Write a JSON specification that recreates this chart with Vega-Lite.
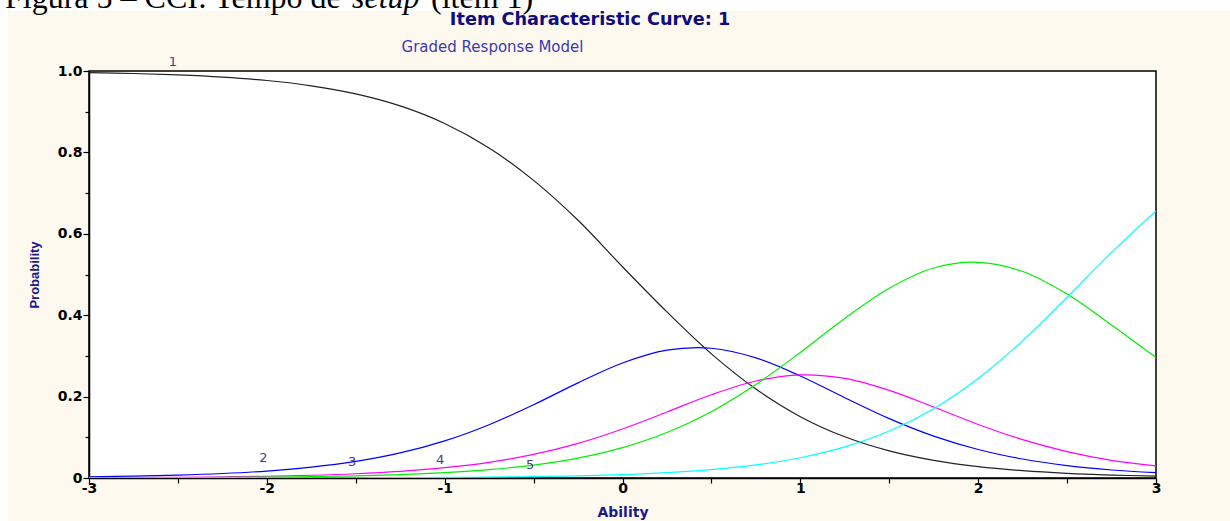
{
  "$schema": "https://vega.github.io/schema/vega-lite/v6.json",
  "width": 1067,
  "height": 407,
  "autosize": {"type": "none"},
  "padding": {"left": 89, "top": 71, "right": 74, "bottom": 43},
  "background": "#FEF9EE",
  "config": {"view": {"fill": "#FFFFFF", "stroke": "#000000", "strokeWidth": 1.5}},
  "datasets": {
    "curves": [
      {"theta": -3, "c1": 0.9961, "c2": 0.0028, "c3": 0.0007, "c4": 0.0003, "c5": 0.0000},
      {"theta": -2.75, "c1": 0.9939, "c2": 0.0045, "c3": 0.0011, "c4": 0.0005, "c5": 0.0001},
      {"theta": -2.5, "c1": 0.9904, "c2": 0.0070, "c3": 0.0017, "c4": 0.0009, "c5": 0.0001},
      {"theta": -2.25, "c1": 0.9850, "c2": 0.0110, "c3": 0.0027, "c4": 0.0014, "c5": 0.0001},
      {"theta": -2, "c1": 0.9766, "c2": 0.0171, "c3": 0.0043, "c4": 0.0022, "c5": 0.0002},
      {"theta": -1.75, "c1": 0.9636, "c2": 0.0265, "c3": 0.0067, "c4": 0.0034, "c5": 0.0004},
      {"theta": -1.5, "c1": 0.9438, "c2": 0.0407, "c3": 0.0105, "c4": 0.0054, "c5": 0.0006},
      {"theta": -1.25, "c1": 0.9142, "c2": 0.0616, "c3": 0.0164, "c4": 0.0083, "c5": 0.0009},
      {"theta": -1, "c1": 0.8711, "c2": 0.0912, "c3": 0.0253, "c4": 0.0131, "c5": 0.0014},
      {"theta": -0.75, "c1": 0.8109, "c2": 0.1310, "c3": 0.0386, "c4": 0.0204, "c5": 0.0022},
      {"theta": -0.5, "c1": 0.7313, "c2": 0.1800, "c3": 0.0580, "c4": 0.0318, "c5": 0.0034},
      {"theta": -0.25, "c1": 0.6332, "c2": 0.2338, "c3": 0.0851, "c4": 0.0489, "c5": 0.0054},
      {"theta": 0, "c1": 0.5190, "c2": 0.2826, "c3": 0.1204, "c4": 0.0746, "c5": 0.0084},
      {"theta": 0.25, "c1": 0.4080, "c2": 0.3141, "c3": 0.1621, "c4": 0.1117, "c5": 0.0132},
      {"theta": 0.5, "c1": 0.3050, "c2": 0.3188, "c3": 0.2046, "c4": 0.1629, "c5": 0.0207},
      {"theta": 0.75, "c1": 0.2186, "c2": 0.2951, "c3": 0.2383, "c4": 0.2295, "c5": 0.0322},
      {"theta": 1, "c1": 0.1507, "c2": 0.2506, "c3": 0.2534, "c4": 0.3086, "c5": 0.0498},
      {"theta": 1.25, "c1": 0.1012, "c2": 0.1972, "c3": 0.2446, "c4": 0.3921, "c5": 0.0763},
      {"theta": 1.5, "c1": 0.0666, "c2": 0.1458, "c3": 0.2153, "c4": 0.4660, "c5": 0.1153},
      {"theta": 1.75, "c1": 0.0433, "c2": 0.1029, "c3": 0.1743, "c4": 0.5159, "c5": 0.1704},
      {"theta": 2, "c1": 0.0279, "c2": 0.0701, "c3": 0.1316, "c4": 0.5300, "c5": 0.2445},
      {"theta": 2.25, "c1": 0.0179, "c2": 0.0466, "c3": 0.0942, "c4": 0.5075, "c5": 0.3370},
      {"theta": 2.5, "c1": 0.0114, "c2": 0.0305, "c3": 0.0648, "c4": 0.4520, "c5": 0.4440},
      {"theta": 2.75, "c1": 0.0073, "c2": 0.0197, "c3": 0.0434, "c4": 0.3760, "c5": 0.5540},
      {"theta": 3, "c1": 0.0046, "c2": 0.0130, "c3": 0.0300, "c4": 0.2960, "c5": 0.6560}
    ],
    "labels": [
      {"theta": -2.528, "prob": 1.021, "label": "1"},
      {"theta": -2.02, "prob": 0.049, "label": "2"},
      {"theta": -1.52, "prob": 0.039, "label": "3"},
      {"theta": -1.026, "prob": 0.044, "label": "4"},
      {"theta": -0.52, "prob": 0.032, "label": "5"}
    ]
  },
  "layer": [
    {
      "data": {"name": "curves"},
      "transform": [{"fold": ["c1", "c2", "c3", "c4", "c5"], "as": ["cat", "prob"]}],
      "mark": {"type": "line", "interpolate": "catmull-rom", "strokeWidth": 1.2, "clip": true},
      "encoding": {
        "x": {
          "field": "theta", "type": "quantitative",
          "scale": {"domain": [-3, 3], "nice": false, "zero": false},
          "axis": {
            "title": "Ability",
            "values": [-3, -2.5, -2, -1.5, -1, -0.5, 0, 0.5, 1, 1.5, 2, 2.5, 3],
            "labelExpr": "datum.value % 1 == 0 ? '' + datum.value : ''",
            "grid": false, "tickSize": 5, "tickColor": "#000000", "tickWidth": 1.2,
            "domainColor": "#000000", "domainWidth": 1.5,
            "labelFlush": false, "labelOverlap": false, "labelPadding": -2,
            "labelFont": "DejaVu Sans", "labelFontWeight": "bold", "labelFontSize": 14, "labelColor": "#000000",
            "titleFont": "DejaVu Sans", "titleFontWeight": "bold", "titleFontSize": 14, "titleColor": "#1A1A8A",
            "titlePadding": 10
          }
        },
        "y": {
          "field": "prob", "type": "quantitative",
          "scale": {"domain": [0, 1], "nice": false},
          "axis": {
            "title": "Probability",
            "values": [0, 0.1, 0.2, 0.3, 0.4, 0.5, 0.6, 0.7, 0.8, 0.9, 1],
            "labelExpr": "datum.value == 0 ? '0' : (round(datum.value * 10) % 2 == 0 ? format(datum.value, '.1f') : '')",
            "grid": false,
            "tickSize": {"condition": {"test": "round(datum.value * 10) % 2 == 0", "value": 6}, "value": 4},
            "tickColor": "#000000", "tickWidth": 1.2,
            "domainColor": "#000000", "domainWidth": 1.5,
            "labelOverlap": false, "labelPadding": 1,
            "labelFont": "DejaVu Sans", "labelFontWeight": "bold", "labelFontSize": 14, "labelColor": "#000000",
            "titleFont": "Liberation Sans", "titleFontWeight": "bold", "titleFontSize": 13, "titleColor": "#1A1A8A",
            "titlePadding": 16
          }
        },
        "color": {
          "field": "cat", "type": "nominal",
          "scale": {"domain": ["c1", "c2", "c3", "c4", "c5"], "range": ["#222222", "#0000FF", "#FF00FF", "#00EE00", "#00FFFF"]},
          "legend": null
        }
      }
    },
    {
      "data": {"name": "labels"},
      "mark": {"type": "text", "font": "DejaVu Sans", "fontSize": 13, "color": "#483D8B", "align": "center", "baseline": "middle"},
      "encoding": {
        "x": {"field": "theta", "type": "quantitative"},
        "y": {"field": "prob", "type": "quantitative"},
        "text": {"field": "label"}
      }
    },
    {
      "data": {"values": [{}]},
      "mark": {"type": "rect", "color": "#FFFFFF"},
      "encoding": {
        "x": {"datum": -3.6, "type": "quantitative"},
        "x2": {"datum": 3.5},
        "y": {"datum": 1.1474, "type": "quantitative"},
        "y2": {"datum": 1.25}
      }
    },
    {
      "data": {"values": [{}]},
      "mark": {"type": "rect", "color": "#FFFFFF"},
      "encoding": {
        "x": {"datum": -3.6, "type": "quantitative"},
        "x2": {"datum": -3.4556},
        "y": {"datum": -0.2, "type": "quantitative"},
        "y2": {"datum": 1.25}
      }
    },
    {
      "data": {"values": [{}]},
      "mark": {"type": "text", "font": "DejaVu Sans", "fontSize": 17.7, "fontWeight": "bold", "color": "#0D0D80", "align": "center", "baseline": "alphabetic"},
      "encoding": {
        "x": {"datum": -0.182, "type": "quantitative"},
        "y": {"datum": 1.113, "type": "quantitative"},
        "text": {"value": "Item Characteristic Curve: 1"}
      }
    },
    {
      "data": {"values": [{}]},
      "mark": {"type": "text", "font": "DejaVu Sans", "fontSize": 15, "color": "#3A3AB0", "align": "center", "baseline": "alphabetic"},
      "encoding": {
        "x": {"datum": -0.731, "type": "quantitative"},
        "y": {"datum": 1.046, "type": "quantitative"},
        "text": {"value": "Graded Response Model"}
      }
    },
    {
      "data": {"values": [{}]},
      "mark": {"type": "text", "font": "Liberation Serif", "fontSize": 32, "color": "#000000", "align": "left", "baseline": "alphabetic"},
      "encoding": {
        "x": {"datum": -3.4724, "type": "quantitative"},
        "y": {"datum": 1.156, "type": "quantitative"},
        "text": {"value": "Figura 5 – CCI: Tempo de"}
      }
    },
    {
      "data": {"values": [{}]},
      "mark": {"type": "text", "font": "Liberation Serif", "fontSize": 32, "fontStyle": "italic", "color": "#000000", "align": "left", "baseline": "alphabetic"},
      "encoding": {
        "x": {"datum": -1.5208, "type": "quantitative"},
        "y": {"datum": 1.156, "type": "quantitative"},
        "text": {"value": "setup"}
      }
    },
    {
      "data": {"values": [{}]},
      "mark": {"type": "text", "font": "Liberation Serif", "fontSize": 32, "color": "#000000", "align": "left", "baseline": "alphabetic"},
      "encoding": {
        "x": {"datum": -1.0765, "type": "quantitative"},
        "y": {"datum": 1.156, "type": "quantitative"},
        "text": {"value": "(item 1)"}
      }
    }
  ]
}
